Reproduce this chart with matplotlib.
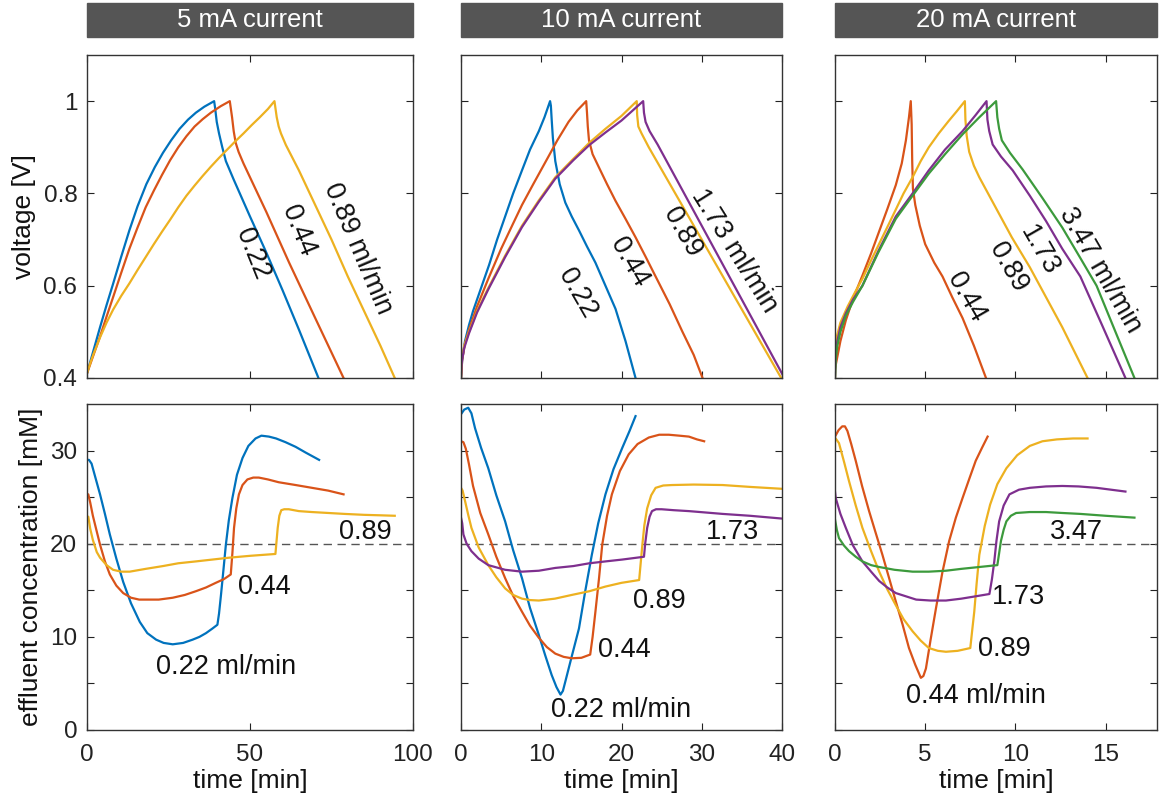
import numpy as np
import matplotlib.pyplot as plt

plt.rcParams['font.family'] = ['Liberation Sans', 'DejaVu Sans']

blue = '#0072BD'
red = '#D95319'
yellow = '#EDB120'
purple = '#7E2F8E'
green = '#3C9A3C'

currents = ["5 mA current", "10 mA current", "20 mA current"]

# ---- voltage curves (time [min], voltage [V]) ----
# 5 mA
v5_022_t = [0, 2, 4, 6, 8, 10.5, 13, 15.5, 18.2, 20.8, 23.3, 25.8, 28.4, 31, 33.4, 36, 38, 39,
            39.3, 39.8, 40.5, 41.5, 42.6, 45, 50, 55, 60, 65, 71]
v5_022_v = [0.41, 0.46, 0.51, 0.558, 0.604, 0.663, 0.72, 0.772, 0.82, 0.857, 0.888, 0.915, 0.94, 0.96,
            0.975, 0.988, 0.996, 1.0, 0.985, 0.955, 0.93, 0.9, 0.87, 0.83, 0.75, 0.672, 0.59, 0.505, 0.40]
v5_044_t = [0, 2, 4, 6, 8, 10.5, 13, 15.5, 18, 20.5, 23, 25.5, 28, 30.5, 33, 35.5, 38, 41, 43.8,
            44.1, 44.5, 45.0, 45.6, 46.5, 48, 55, 62, 70, 78.7]
v5_044_v = [0.41, 0.45, 0.49, 0.533, 0.575, 0.628, 0.68, 0.726, 0.77, 0.806, 0.84, 0.872, 0.90, 0.924,
            0.945, 0.961, 0.975, 0.989, 1.0, 0.985, 0.965, 0.935, 0.91, 0.89, 0.865, 0.76, 0.65, 0.53, 0.40]
v5_089_t = [0, 1, 2, 4, 6, 8, 10.5, 13, 15.5, 18, 20.5, 23, 25.5, 28, 30.5, 33, 35.5, 38, 40.5, 43,
            45.5, 48, 50.5, 53, 55.5, 57.5, 57.8, 58.2, 58.8, 59.5, 61, 65, 70, 75, 80, 85, 90, 94.4]
v5_089_v = [0.41, 0.432, 0.452, 0.488, 0.52, 0.548, 0.578, 0.605, 0.634, 0.662, 0.69, 0.717, 0.743,
            0.77, 0.795, 0.817, 0.838, 0.858, 0.877, 0.895, 0.913, 0.93, 0.948, 0.965, 0.983, 1.0,
            0.985, 0.965, 0.945, 0.93, 0.905, 0.85, 0.775, 0.70, 0.62, 0.545, 0.47, 0.40]

# 10 mA
v10_022_t = [0, 0.15, 0.5, 1.0, 1.5, 2.5, 3.5, 4.5, 5.5, 6.5, 7.6, 8.6, 9.7, 10.4, 11.1,
             11.2, 11.3, 11.45, 11.75, 12.3, 13.0, 13.8, 14.7, 15.7, 16.75, 18, 19.25, 20.5, 21.75]
v10_022_v = [0.40, 0.44, 0.48, 0.515, 0.545, 0.595, 0.645, 0.70, 0.75, 0.80, 0.85, 0.895, 0.935, 0.965,
             1.0, 0.99, 0.96, 0.92, 0.87, 0.82, 0.78, 0.75, 0.72, 0.685, 0.65, 0.60, 0.55, 0.48, 0.40]
v10_044_t = [0, 0.15, 0.5, 1, 2, 3.4, 5, 6.5, 7.6, 9, 10.9, 12, 13.4, 14.5, 15.6,
             15.7, 15.8, 15.95, 16.4, 17.2, 18.2, 19.25, 20.5, 21.75, 23, 24.25, 26, 27.6, 29, 30.1]
v10_044_v = [0.40, 0.44, 0.475, 0.505, 0.555, 0.615, 0.68, 0.735, 0.775, 0.82, 0.88, 0.915, 0.955, 0.98,
             1.0, 0.975, 0.945, 0.915, 0.885, 0.856, 0.82, 0.784, 0.745, 0.705, 0.663, 0.62, 0.56, 0.50,
             0.45, 0.40]
v10_089_t = [0, 0.1, 0.4, 1, 2, 3.4, 5.5, 7.6, 9.7, 11.75, 14, 16, 18, 20, 21.9,
             21.95, 22.1, 22.5, 23.4, 39.9]
v10_089_v = [0.40, 0.44, 0.47, 0.50, 0.545, 0.595, 0.665, 0.73, 0.785, 0.835, 0.875, 0.91, 0.94, 0.968,
             1.0, 0.97, 0.945, 0.93, 0.90, 0.40]
v10_173_t = [0, 0.1, 0.4, 1, 2, 3.4, 5.5, 7.6, 9.7, 11.75, 14, 16, 18, 20, 22.7,
             22.8, 23.0, 23.5, 24.5, 40.3]
v10_173_v = [0.40, 0.435, 0.465, 0.497, 0.542, 0.592, 0.662, 0.727, 0.782, 0.832, 0.872, 0.905, 0.932,
             0.958, 1.0, 0.975, 0.955, 0.935, 0.906, 0.40]

# 20 mA
v20_044_t = [0, 0.3, 0.6, 1.0, 1.52, 2.0, 2.45, 2.9, 3.37, 3.7, 3.93, 4.1, 4.2,
             4.25, 4.28, 4.32, 4.45, 4.7, 5.0, 5.5, 5.96, 6.5, 7.07, 7.7, 8.37]
v20_044_v = [0.42, 0.48, 0.525, 0.572, 0.622, 0.67, 0.718, 0.766, 0.818, 0.865, 0.915, 0.965, 1.0,
             0.95, 0.87, 0.81, 0.775, 0.73, 0.69, 0.65, 0.62, 0.575, 0.53, 0.47, 0.40]
v20_089_t = [0, 0.03, 0.1, 0.3, 0.7, 1.1, 1.52, 2.0, 2.5, 3.0, 3.37, 3.8, 4.3, 4.75, 5.2, 5.75, 6.3,
             6.75, 7.2, 7.23, 7.3, 7.44, 7.7, 8.0, 8.9, 9.8, 10.8, 11.7, 12.6, 13.3, 14.0]
v20_089_v = [0.40, 0.45, 0.49, 0.52, 0.555, 0.585, 0.615, 0.655, 0.695, 0.735, 0.765, 0.80, 0.835,
             0.87, 0.90, 0.93, 0.957, 0.978, 1.0, 0.96, 0.925, 0.89, 0.86, 0.835, 0.77, 0.705, 0.64,
             0.575, 0.51, 0.455, 0.40]
v20_173_t = [0, 0.04, 0.13, 0.3, 0.6, 1.0, 1.52, 2.4, 3.37, 4.3, 5.2, 6.1, 7.07, 7.8, 8.4,
             8.45, 8.55, 8.74, 9.2, 9.85, 10.8, 11.7, 12.6, 13.6, 14.8, 16.1]
v20_173_v = [0.40, 0.45, 0.48, 0.51, 0.54, 0.57, 0.60, 0.675, 0.75, 0.80, 0.85, 0.895, 0.935, 0.97, 1.0,
             0.96, 0.935, 0.906, 0.88, 0.85, 0.795, 0.74, 0.68, 0.62, 0.515, 0.40]
v20_347_t = [0, 0.04, 0.13, 0.3, 0.6, 1.0, 1.52, 2.4, 3.37, 4.3, 5.2, 6.1, 7.07, 8.0, 8.93,
             9.0, 9.1, 9.25, 9.7, 10.4, 11.5, 12.6, 13.6, 14.5, 15.6, 16.6]
v20_347_v = [0.40, 0.44, 0.47, 0.50, 0.535, 0.565, 0.60, 0.672, 0.745, 0.795, 0.843, 0.885, 0.928,
             0.965, 1.0, 0.965, 0.94, 0.915, 0.888, 0.852, 0.79, 0.726, 0.66, 0.60, 0.495, 0.40]

# ---- effluent concentration curves (time [min], concentration [mM]) ----
c5_022_t = [0, 0.6, 1.4, 2.5, 4, 5.5, 7, 9, 11.1, 13.5, 16.2, 18.5, 21.2, 23.5, 26.3, 29.5, 32.4, 34.5,
            36.5, 38.5, 40.0, 40.5, 41.1, 41.8, 42.6, 43.5, 44.6, 46, 47.7, 49.5, 51.7, 53.5, 55.8, 58,
            60.9, 64, 67, 71.2]
c5_022_c = [29.0, 29.0, 28.6, 27.2, 25.3, 23.2, 21.0, 18.4, 15.9, 13.6, 11.6, 10.4, 9.7, 9.35, 9.2,
            9.35, 9.7, 10.0, 10.4, 10.9, 11.3, 12.5, 14.5, 17.0, 19.9, 22.5, 24.9, 27.4, 29.2, 30.5,
            31.3, 31.6, 31.5, 31.3, 30.9, 30.4, 29.8, 29.0]
c5_044_t = [0, 0.4, 1.0, 1.8, 3.0, 4, 5.5, 7, 9, 11.1, 13.5, 16, 18.2, 22, 26.3, 30, 33.4, 36.5, 39.5,
            42, 44.1, 44.6, 45.1, 45.8, 46.6, 47.7, 49.2, 51, 52.7, 55.5, 58.8, 64, 69, 74, 78.7]
c5_044_c = [25.3, 25.3, 24.4, 23.0, 21.3, 19.9, 18.1, 16.7, 15.5, 14.7, 14.2, 14.0, 14.0, 14.0, 14.2,
            14.5, 14.9, 15.3, 15.8, 16.2, 16.7, 19.0, 21.7, 23.8, 25.3, 26.3, 26.9, 27.1, 27.1, 26.9,
            26.6, 26.3, 26.0, 25.7, 25.3]
c5_089_t = [0, 0.4, 1.0, 1.8, 3.0, 4, 6, 8, 10.5, 13.1, 18, 23.3, 28, 33.4, 38.5, 43.6, 50, 57.8,
            58.2, 58.5, 59.0, 59.6, 60.5, 61.9, 65, 69, 74, 79, 85, 90, 94.4]
c5_089_c = [22.9, 22.9, 21.6, 20.4, 19.1, 18.5, 17.7, 17.2, 17.0, 17.0, 17.3, 17.6, 17.9, 18.1, 18.3,
            18.5, 18.7, 18.9, 20.5, 21.7, 23.0, 23.6, 23.7, 23.7, 23.5, 23.4, 23.3, 23.2, 23.1, 23.05, 23.0]

c10_022_t = [0, 0.4, 0.9, 1.3, 1.75, 2.5, 3.4, 4.4, 5.5, 6.5, 7.6, 8.6, 9.7, 10.5, 11.3, 11.9, 12.4,
             12.7, 13.0, 13.8, 14.7, 15.5, 16.3, 17.1, 18, 19, 20.1, 21, 21.75]
c10_022_c = [33.9, 34.4, 34.6, 34.0, 32.4, 30.3, 28.1, 25.2, 22.4, 19.3, 16.3, 13.1, 10.2, 8.0, 5.9,
             4.6, 3.8, 4.2, 5.2, 7.9, 10.9, 15.0, 18.8, 22.2, 25.3, 28.0, 30.3, 32.1, 33.7]
c10_044_t = [0, 0.3, 0.6, 1.0, 1.5, 2.4, 3.4, 4.4, 5.5, 6.5, 7.6, 8.6, 9.7, 10.7, 11.75, 12.8, 13.8,
             15, 16.1, 16.4, 16.75, 17.2, 17.6, 18.2, 18.8, 19.8, 20.9, 22, 23.4, 24.7, 25.9, 27.2,
             28.4, 29.4, 30.3]
c10_044_c = [31.0, 30.9, 30.2, 28.5, 26.2, 23.3, 21.0, 18.6, 16.3, 14.4, 12.7, 11.2, 9.9, 8.9, 8.2,
             7.85, 7.7, 7.75, 8.1, 10.0, 12.7, 16.3, 19.9, 23.0, 25.3, 27.8, 29.6, 30.7, 31.4, 31.7,
             31.7, 31.6, 31.5, 31.2, 31.0]
c10_089_t = [0, 0.2, 0.5, 0.9, 1.3, 2.2, 3.4, 4.4, 5.5, 6.5, 7.6, 8.6, 9.7, 11.7, 13.8, 16, 18, 20,
             22.2, 22.4, 22.6, 22.85, 23.2, 23.7, 24.25, 25.2, 26.3, 29, 32.6, 36, 39.9]
c10_089_c = [26.0, 25.7, 24.6, 23.1, 21.7, 19.6, 17.7, 16.4, 15.2, 14.5, 14.1, 13.95, 13.9, 14.1,
             14.5, 14.9, 15.4, 15.8, 16.1, 18.0, 19.9, 22.0, 23.8, 25.2, 26.0, 26.25, 26.3, 26.35,
             26.3, 26.1, 25.9]
c10_173_t = [0, 0.15, 0.3, 0.7, 1.3, 2.2, 3.4, 5.5, 7.6, 9.7, 11.75, 14, 16, 18, 20.1, 22.8, 22.95,
             23.2, 23.5, 23.8, 24.3, 25, 26.5, 28.4, 30.5, 32.6, 36, 40.0]
c10_173_c = [22.8, 22.2, 21.0, 20.0, 19.2, 18.4, 17.7, 17.2, 17.0, 17.1, 17.4, 17.6, 17.9, 18.1,
             18.3, 18.6, 20.0, 21.7, 22.9, 23.5, 23.7, 23.7, 23.6, 23.5, 23.35, 23.2, 23.0, 22.7]

c20_044_t = [0, 0.2, 0.4, 0.55, 0.69, 0.9, 1.15, 1.5, 1.89, 2.25, 2.63, 3.0, 3.37, 3.75, 4.1, 4.45,
             4.76, 4.9, 5.04, 5.3, 5.6, 5.95, 6.33, 6.7, 7.07, 7.45, 7.8, 8.15, 8.46]
c20_044_c = [31.5, 32.2, 32.6, 32.6, 32.1, 30.7, 28.9, 26.2, 23.5, 21.2, 18.8, 16.3, 13.8, 11.3, 8.8,
             7.0, 5.6, 5.8, 6.6, 9.7, 13.1, 16.9, 20.3, 22.8, 24.9, 27.0, 28.9, 30.3, 31.5]
c20_089_t = [0, 0.22, 0.5, 0.78, 1.15, 1.52, 2.0, 2.45, 2.9, 3.37, 3.8, 4.3, 4.75, 5.2, 5.7, 6.15,
             6.8, 7.5, 7.6, 7.72, 7.85, 8.0, 8.3, 8.6, 9.0, 9.5, 10.1, 10.8, 11.5, 12.3, 13.2, 14.0]
c20_089_c = [31.4, 30.8, 28.8, 26.7, 24.1, 21.7, 19.2, 17.0, 15.1, 13.4, 11.9, 10.6, 9.6, 8.8, 8.5,
             8.4, 8.5, 8.8, 10.6, 12.7, 15.7, 18.8, 21.9, 24.2, 26.4, 28.1, 29.5, 30.5, 31.0, 31.2,
             31.3, 31.3]
c20_173_t = [0, 0.04, 0.3, 0.6, 1.0, 1.52, 2.0, 2.45, 2.9, 3.37, 4.5, 5.3, 6.15, 7.0, 7.63, 8.56,
             8.7, 8.83, 8.95, 9.1, 9.35, 9.67, 10.2, 10.8, 11.7, 12.6, 13.5, 14.5, 15.3, 16.1]
c20_173_c = [25.6, 24.9, 23.2, 21.7, 19.8, 18.1, 17.0, 16.0, 15.3, 14.7, 14.0, 13.9, 13.9, 14.1,
             14.3, 14.6, 16.2, 18.1, 20.3, 22.4, 24.1, 25.3, 25.8, 26.0, 26.15, 26.2, 26.15, 26.0,
             25.8, 25.6]
c20_347_t = [0, 0.1, 0.22, 0.5, 0.78, 1.15, 1.52, 2.0, 2.45, 3.3, 4.3, 5.2, 6.15, 7.0, 8.0, 9.0, 9.1,
             9.2, 9.35, 9.5, 9.75, 10.04, 10.8, 11.7, 12.6, 13.6, 15.0, 16.6]
c20_347_c = [22.6, 21.5, 20.6, 19.8, 19.2, 18.6, 18.1, 17.7, 17.5, 17.2, 17.0, 17.0, 17.1, 17.3,
             17.5, 17.7, 19.0, 20.3, 21.5, 22.4, 23.0, 23.3, 23.4, 23.4, 23.3, 23.2, 23.0, 22.8]

fig = plt.figure(figsize=(11.59, 8.06), dpi=100)

W, H = 1159, 806
lefts = [87, 461, 835]
rights = [413, 782, 1157]
top_row = (55, 378)
bot_row = (404, 730)
xmax = [100, 40, 17.85]
xticks = [[0, 50, 100], [0, 10, 20, 30, 40], [0, 5, 10, 15]]


def make_ax(col, rows):
    l, r = lefts[col], rights[col]
    t, b = rows
    ax = fig.add_axes([l / W, 1 - b / H, (r - l) / W, (b - t) / H])
    ax.tick_params(direction='in', top=True, right=True, length=5, width=0.8,
                   labelsize=17.5, colors='#222222', pad=7)
    ax.tick_params(axis='x', pad=10)
    for s in ax.spines.values():
        s.set_color('#333333')
        s.set_linewidth(1.0)
    ax.set_xlim(0, xmax[col])
    ax.set_xticks(xticks[col])
    return ax


top_axes = [make_ax(c, top_row) for c in range(3)]
bot_axes = [make_ax(c, bot_row) for c in range(3)]

volt = [
    [(v5_022_t, v5_022_v, blue), (v5_044_t, v5_044_v, red), (v5_089_t, v5_089_v, yellow)],
    [(v10_022_t, v10_022_v, blue), (v10_044_t, v10_044_v, red), (v10_089_t, v10_089_v, yellow),
     (v10_173_t, v10_173_v, purple)],
    [(v20_044_t, v20_044_v, red), (v20_089_t, v20_089_v, yellow), (v20_173_t, v20_173_v, purple),
     (v20_347_t, v20_347_v, green)],
]
conc = [
    [(c5_022_t, c5_022_c, blue), (c5_044_t, c5_044_c, red), (c5_089_t, c5_089_c, yellow)],
    [(c10_022_t, c10_022_c, blue), (c10_044_t, c10_044_c, red), (c10_089_t, c10_089_c, yellow),
     (c10_173_t, c10_173_c, purple)],
    [(c20_044_t, c20_044_c, red), (c20_089_t, c20_089_c, yellow), (c20_173_t, c20_173_c, purple),
     (c20_347_t, c20_347_c, green)],
]

# labels on the voltage curves: (text, x, y, rotation)
volt_labels = [
    [("0.22", 50.6, 0.67, -68), ("0.44", 64.7, 0.72, -68), ("0.89 ml/min", 83.2, 0.68, -67)],
    [("0.22", 14.5, 0.583, -60), ("0.44", 21.0, 0.65, -60), ("0.89", 27.6, 0.716, -60),
     ("1.73 ml/min", 34.1, 0.676, -58)],
    [("0.44", 7.25, 0.575, -60), ("0.89", 9.6, 0.64, -60), ("1.73", 11.3, 0.676, -60),
     ("3.47 ml/min", 14.7, 0.633, -60)],
]
conc_labels = [
    [("0.89", 85.3, 21.3), ("0.44", 54.3, 15.4), ("0.22 ml/min", 42.6, 6.8)],
    [("1.73", 33.8, 21.3), ("0.89", 24.7, 13.9), ("0.44", 20.3, 8.6), ("0.22 ml/min", 19.9, 2.1)],
    [("3.47", 13.4, 21.3), ("1.73", 10.2, 14.3), ("0.89", 9.4, 8.75), ("0.44 ml/min", 7.8, 3.6)],
]

for c in range(3):
    ax = top_axes[c]
    for t, v, col in volt[c]:
        ax.plot(t, v, color=col, lw=1.6)
    ax.set_ylim(0.4, 1.1)
    ax.set_yticks([0.4, 0.6, 0.8, 1.0])
    ax.set_yticklabels(['0.4', '0.6', '0.8', '1'])
    ax.tick_params(labelbottom=False)
    if c > 0:
        ax.tick_params(labelleft=False)
    for txt, x, y, rot in volt_labels[c]:
        ax.text(x, y, txt, rotation=rot, rotation_mode='anchor', ha='center', va='center',
                fontsize=19.5, color='#111111')

    ax = bot_axes[c]
    ax.axhline(20, color='#555555', lw=1.0, ls=(0, (6, 4)))
    for t, v, col in conc[c]:
        ax.plot(t, v, color=col, lw=1.6)
    ax.set_ylim(0, 35)
    ax.set_yticks([0, 5, 10, 15, 20, 25, 30])
    ax.set_yticklabels(['0', '', '10', '', '20', '', '30'])
    ax.set_xlabel('time [min]', fontsize=19, color='#111111', labelpad=2)
    if c > 0:
        ax.tick_params(labelleft=False)
    for txt, x, y in conc_labels[c]:
        ax.text(x, y, txt, ha='center', va='center', fontsize=19.5, color='#111111')

    # header box above each column
    l, r = lefts[c], rights[c]
    fig.patches.append(plt.Rectangle((l / W, 1 - 37 / H), (r - l) / W, 34 / H,
                                     transform=fig.transFigure, color='#555555', zorder=0))
    fig.text((l + r) / 2 / W, 1 - 20 / H, currents[c], ha='center', va='center',
             fontsize=18.5, color='white')

top_axes[0].set_ylabel('voltage [V]', fontsize=19, color='#111111', labelpad=5)
bot_axes[0].set_ylabel('effluent concentration [mM]', fontsize=19, color='#111111', labelpad=5)

fig.savefig('out.png', dpi=100)
